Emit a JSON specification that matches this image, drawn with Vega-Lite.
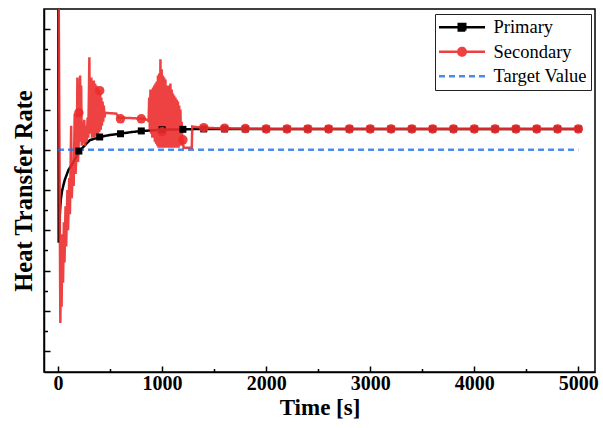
{
  "$schema": "https://vega.github.io/schema/vega-lite/v6.json",
  "width": 551,
  "height": 363,
  "autosize": {"type": "none"},
  "padding": {"left": 44, "top": 9, "right": 8, "bottom": 56},
  "config": {
    "view": {"stroke": "#000", "strokeWidth": 1.5},
    "axis": {
      "grid": false, "domainColor": "#000", "domainWidth": 1.5, "tickColor": "#000", "tickWidth": 1.5,
      "labelFont": "Liberation Serif", "labelFontWeight": "bold", "labelFontSize": 20, "labelColor": "#000",
      "titleFont": "Liberation Serif", "titleFontWeight": "bold", "titleFontSize": 23, "titleColor": "#000"
    }
  },
  "datasets": {
    "curves": [
      {"t": 0, "v": 12, "series": "Primary"},
      {"t": 6, "v": 2.69, "series": "Primary"},
      {"t": 15, "v": 3.3, "series": "Primary"},
      {"t": 26, "v": 3.76, "series": "Primary"},
      {"t": 40, "v": 4.0, "series": "Primary"},
      {"t": 64, "v": 4.25, "series": "Primary"},
      {"t": 100, "v": 4.5, "series": "Primary"},
      {"t": 142, "v": 4.67, "series": "Primary"},
      {"t": 209, "v": 4.98, "series": "Primary"},
      {"t": 305, "v": 5.24, "series": "Primary"},
      {"t": 401, "v": 5.32, "series": "Primary"},
      {"t": 500, "v": 5.37, "series": "Primary"},
      {"t": 594, "v": 5.4, "series": "Primary"},
      {"t": 700, "v": 5.44, "series": "Primary"},
      {"t": 806, "v": 5.47, "series": "Primary"},
      {"t": 1008, "v": 5.5, "series": "Primary"},
      {"t": 1210, "v": 5.51, "series": "Primary"},
      {"t": 1400, "v": 5.52, "series": "Primary"},
      {"t": 5000, "v": 5.52, "series": "Primary"},

      {"t": 0, "v": 12, "series": "Secondary"},
      {"t": 22, "v": 0.7, "series": "Secondary"},
      {"t": 28, "v": 2.3, "series": "Secondary"},
      {"t": 34, "v": 1.1, "series": "Secondary"},
      {"t": 42, "v": 2.9, "series": "Secondary"},
      {"t": 48, "v": 1.7, "series": "Secondary"},
      {"t": 56, "v": 3.2, "series": "Secondary"},
      {"t": 62, "v": 2.2, "series": "Secondary"},
      {"t": 72, "v": 3.6, "series": "Secondary"},
      {"t": 78, "v": 2.6, "series": "Secondary"},
      {"t": 90, "v": 4.0, "series": "Secondary"},
      {"t": 96, "v": 3.0, "series": "Secondary"},
      {"t": 108, "v": 4.3, "series": "Secondary"},
      {"t": 114, "v": 3.4, "series": "Secondary"},
      {"t": 126, "v": 5.6, "series": "Secondary"},
      {"t": 132, "v": 3.8, "series": "Secondary"},
      {"t": 144, "v": 4.7, "series": "Secondary"},
      {"t": 150, "v": 4.1, "series": "Secondary"},
      {"t": 160, "v": 5.9, "series": "Secondary"},
      {"t": 168, "v": 4.4, "series": "Secondary"},
      {"t": 180, "v": 5.0, "series": "Secondary"},
      {"t": 186, "v": 6.8, "series": "Secondary"},
      {"t": 192, "v": 4.7, "series": "Secondary"},
      {"t": 200, "v": 5.3, "series": "Secondary"},
      {"t": 206, "v": 5.92, "series": "Secondary"},
      {"t": 212, "v": 6.85, "series": "Secondary"},
      {"t": 216, "v": 5.2, "series": "Secondary"},
      {"t": 222, "v": 6.6, "series": "Secondary"},
      {"t": 228, "v": 5.1, "series": "Secondary"},
      {"t": 236, "v": 5.7, "series": "Secondary"},
      {"t": 244, "v": 5.15, "series": "Secondary"},
      {"t": 252, "v": 5.75, "series": "Secondary"},
      {"t": 260, "v": 5.1, "series": "Secondary"},
      {"t": 268, "v": 5.6, "series": "Secondary"},
      {"t": 276, "v": 5.2, "series": "Secondary"},
      {"t": 284, "v": 5.8, "series": "Secondary"},
      {"t": 290, "v": 5.3, "series": "Secondary"},
      {"t": 296, "v": 6.3, "series": "Secondary"},
      {"t": 301, "v": 7.3, "series": "Secondary"},
      {"t": 305, "v": 5.5, "series": "Secondary"},
      {"t": 308, "v": 6.75, "series": "Secondary"},
      {"t": 314, "v": 5.4, "series": "Secondary"},
      {"t": 320, "v": 6.8, "series": "Secondary"},
      {"t": 326, "v": 5.3, "series": "Secondary"},
      {"t": 332, "v": 6.7, "series": "Secondary"},
      {"t": 338, "v": 5.35, "series": "Secondary"},
      {"t": 344, "v": 6.72, "series": "Secondary"},
      {"t": 350, "v": 5.3, "series": "Secondary"},
      {"t": 356, "v": 6.65, "series": "Secondary"},
      {"t": 362, "v": 5.4, "series": "Secondary"},
      {"t": 368, "v": 6.6, "series": "Secondary"},
      {"t": 374, "v": 5.35, "series": "Secondary"},
      {"t": 380, "v": 6.55, "series": "Secondary"},
      {"t": 386, "v": 5.4, "series": "Secondary"},
      {"t": 392, "v": 6.5, "series": "Secondary"},
      {"t": 398, "v": 5.45, "series": "Secondary"},
      {"t": 404, "v": 6.45, "series": "Secondary"},
      {"t": 410, "v": 5.5, "series": "Secondary"},
      {"t": 416, "v": 6.3, "series": "Secondary"},
      {"t": 422, "v": 5.6, "series": "Secondary"},
      {"t": 428, "v": 6.2, "series": "Secondary"},
      {"t": 434, "v": 5.7, "series": "Secondary"},
      {"t": 440, "v": 6.1, "series": "Secondary"},
      {"t": 446, "v": 5.8, "series": "Secondary"},
      {"t": 452, "v": 5.92, "series": "Secondary"},
      {"t": 560, "v": 5.9, "series": "Secondary"},
      {"t": 585, "v": 5.8, "series": "Secondary"},
      {"t": 700, "v": 5.79, "series": "Secondary"},
      {"t": 830, "v": 5.77, "series": "Secondary"},
      {"t": 862, "v": 5.74, "series": "Secondary"},
      {"t": 870, "v": 5.7, "series": "Secondary"},
      {"t": 876, "v": 6.3, "series": "Secondary"},
      {"t": 882, "v": 5.5, "series": "Secondary"},
      {"t": 888, "v": 6.5, "series": "Secondary"},
      {"t": 894, "v": 5.4, "series": "Secondary"},
      {"t": 900, "v": 6.5, "series": "Secondary"},
      {"t": 906, "v": 5.3, "series": "Secondary"},
      {"t": 912, "v": 6.55, "series": "Secondary"},
      {"t": 918, "v": 5.3, "series": "Secondary"},
      {"t": 924, "v": 6.6, "series": "Secondary"},
      {"t": 930, "v": 5.2, "series": "Secondary"},
      {"t": 936, "v": 6.65, "series": "Secondary"},
      {"t": 942, "v": 5.15, "series": "Secondary"},
      {"t": 948, "v": 6.7, "series": "Secondary"},
      {"t": 954, "v": 5.1, "series": "Secondary"},
      {"t": 960, "v": 6.85, "series": "Secondary"},
      {"t": 966, "v": 5.05, "series": "Secondary"},
      {"t": 972, "v": 6.9, "series": "Secondary"},
      {"t": 978, "v": 5.05, "series": "Secondary"},
      {"t": 984, "v": 7.25, "series": "Secondary"},
      {"t": 990, "v": 5.05, "series": "Secondary"},
      {"t": 996, "v": 7.0, "series": "Secondary"},
      {"t": 1002, "v": 5.05, "series": "Secondary"},
      {"t": 1008, "v": 6.85, "series": "Secondary"},
      {"t": 1014, "v": 5.05, "series": "Secondary"},
      {"t": 1020, "v": 6.8, "series": "Secondary"},
      {"t": 1026, "v": 5.05, "series": "Secondary"},
      {"t": 1032, "v": 6.75, "series": "Secondary"},
      {"t": 1038, "v": 5.1, "series": "Secondary"},
      {"t": 1044, "v": 6.6, "series": "Secondary"},
      {"t": 1050, "v": 5.05, "series": "Secondary"},
      {"t": 1056, "v": 6.6, "series": "Secondary"},
      {"t": 1062, "v": 5.05, "series": "Secondary"},
      {"t": 1068, "v": 6.6, "series": "Secondary"},
      {"t": 1074, "v": 5.1, "series": "Secondary"},
      {"t": 1080, "v": 6.65, "series": "Secondary"},
      {"t": 1086, "v": 5.05, "series": "Secondary"},
      {"t": 1092, "v": 6.5, "series": "Secondary"},
      {"t": 1098, "v": 5.1, "series": "Secondary"},
      {"t": 1104, "v": 6.4, "series": "Secondary"},
      {"t": 1110, "v": 5.05, "series": "Secondary"},
      {"t": 1116, "v": 6.35, "series": "Secondary"},
      {"t": 1122, "v": 5.1, "series": "Secondary"},
      {"t": 1128, "v": 6.3, "series": "Secondary"},
      {"t": 1134, "v": 5.05, "series": "Secondary"},
      {"t": 1140, "v": 6.25, "series": "Secondary"},
      {"t": 1146, "v": 5.1, "series": "Secondary"},
      {"t": 1152, "v": 6.2, "series": "Secondary"},
      {"t": 1158, "v": 5.05, "series": "Secondary"},
      {"t": 1164, "v": 6.1, "series": "Secondary"},
      {"t": 1170, "v": 5.1, "series": "Secondary"},
      {"t": 1176, "v": 6.0, "series": "Secondary"},
      {"t": 1182, "v": 5.1, "series": "Secondary"},
      {"t": 1188, "v": 5.7, "series": "Secondary"},
      {"t": 1194, "v": 5.2, "series": "Secondary"},
      {"t": 1200, "v": 5.25, "series": "Secondary"},
      {"t": 1206, "v": 5.05, "series": "Secondary"},
      {"t": 1285, "v": 5.05, "series": "Secondary"},
      {"t": 1290, "v": 5.58, "series": "Secondary"},
      {"t": 1350, "v": 5.56, "series": "Secondary"},
      {"t": 1500, "v": 5.54, "series": "Secondary"},
      {"t": 2000, "v": 5.52, "series": "Secondary"},
      {"t": 5000, "v": 5.52, "series": "Secondary"},

      {"t": 0, "v": 5.0, "series": "Target Value"},
      {"t": 5000, "v": 5.0, "series": "Target Value"}
    ],
    "markers": [
      {"t": 200, "v": 4.97, "series": "Primary"},
      {"t": 400, "v": 5.32, "series": "Primary"},
      {"t": 600, "v": 5.4, "series": "Primary"},
      {"t": 800, "v": 5.47, "series": "Primary"},
      {"t": 1000, "v": 5.5, "series": "Primary"},
      {"t": 1200, "v": 5.51, "series": "Primary"},
      {"t": 1400, "v": 5.52, "series": "Primary"},
      {"t": 1600, "v": 5.52, "series": "Primary"},
      {"t": 1800, "v": 5.52, "series": "Primary"},
      {"t": 2000, "v": 5.52, "series": "Primary"},
      {"t": 2200, "v": 5.52, "series": "Primary"},
      {"t": 2400, "v": 5.52, "series": "Primary"},
      {"t": 2600, "v": 5.52, "series": "Primary"},
      {"t": 2800, "v": 5.52, "series": "Primary"},
      {"t": 3000, "v": 5.52, "series": "Primary"},
      {"t": 3200, "v": 5.52, "series": "Primary"},
      {"t": 3400, "v": 5.52, "series": "Primary"},
      {"t": 3600, "v": 5.52, "series": "Primary"},
      {"t": 3800, "v": 5.52, "series": "Primary"},
      {"t": 4000, "v": 5.52, "series": "Primary"},
      {"t": 4200, "v": 5.52, "series": "Primary"},
      {"t": 4400, "v": 5.52, "series": "Primary"},
      {"t": 4600, "v": 5.52, "series": "Primary"},
      {"t": 4800, "v": 5.52, "series": "Primary"},
      {"t": 5000, "v": 5.52, "series": "Primary"},
      {"t": 200, "v": 5.92, "series": "Secondary"},
      {"t": 400, "v": 6.47, "series": "Secondary"},
      {"t": 600, "v": 5.77, "series": "Secondary"},
      {"t": 800, "v": 5.77, "series": "Secondary"},
      {"t": 1000, "v": 5.45, "series": "Secondary"},
      {"t": 1200, "v": 5.25, "series": "Secondary"},
      {"t": 1400, "v": 5.55, "series": "Secondary"},
      {"t": 1600, "v": 5.54, "series": "Secondary"},
      {"t": 1800, "v": 5.53, "series": "Secondary"},
      {"t": 2000, "v": 5.52, "series": "Secondary"},
      {"t": 2200, "v": 5.52, "series": "Secondary"},
      {"t": 2400, "v": 5.52, "series": "Secondary"},
      {"t": 2600, "v": 5.52, "series": "Secondary"},
      {"t": 2800, "v": 5.52, "series": "Secondary"},
      {"t": 3000, "v": 5.52, "series": "Secondary"},
      {"t": 3200, "v": 5.52, "series": "Secondary"},
      {"t": 3400, "v": 5.52, "series": "Secondary"},
      {"t": 3600, "v": 5.52, "series": "Secondary"},
      {"t": 3800, "v": 5.52, "series": "Secondary"},
      {"t": 4000, "v": 5.52, "series": "Secondary"},
      {"t": 4200, "v": 5.52, "series": "Secondary"},
      {"t": 4400, "v": 5.52, "series": "Secondary"},
      {"t": 4600, "v": 5.52, "series": "Secondary"},
      {"t": 4800, "v": 5.52, "series": "Secondary"},
      {"t": 5000, "v": 5.52, "series": "Secondary"}
    ]
  },
  "resolve": {"axis": {"x": "independent", "y": "independent"}},
  "layer": [
    {
      "data": {"name": "curves"},
      "mark": {"type": "line", "clip": true, "strokeWidth": 2.5},
      "encoding": {
        "x": {
          "field": "t", "type": "quantitative",
          "scale": {"domain": [-135, 5160], "nice": false, "zero": false},
          "axis": {"values": [0, 1000, 2000, 3000, 4000, 5000], "format": "d", "tickSize": -6, "labelPadding": 7, "labelFlush": false, "title": "Time [s]", "titlePadding": 3, "orient": "bottom"}
        },
        "y": {
          "field": "v", "type": "quantitative",
          "scale": {"domain": [-0.52, 8.5], "nice": false, "zero": false},
          "axis": {"values": [0, 1, 2, 3, 4, 5, 6, 7, 8], "labels": false, "tickSize": -6, "title": "Heat Transfer Rate", "titleFontSize": 24.5, "titlePadding": 7, "orient": "left"}
        },
        "color": {
          "field": "series", "type": "nominal",
          "scale": {"domain": ["Primary", "Secondary", "Target Value"], "range": ["#000000", "#ec2c2c", "#1f6fe8"]},
          "legend": {
            "title": null, "orient": "none", "legendX": 391, "legendY": 5, "direction": "vertical",
            "labelFont": "Liberation Serif", "labelFontSize": 18.5, "labelColor": "#000", "labelFontWeight": "normal",
            "symbolSize": 100, "labelOffset": 36, "rowPadding": 5.5, "padding": 4,
            "strokeColor": "#222", "fillColor": "#ffffff",
            "encode": {
              "symbols": {
                "update": {
                  "shape": {"signal": "datum.value === 'Primary' ? 'M-4.6,0H4.6M-0.65,-0.65H0.65V0.65H-0.65Z' : datum.value === 'Secondary' ? 'M-4.6,0H4.6M0.75,0A0.75,0.75,0,1,1,-0.75,0A0.75,0.75,0,1,1,0.75,0Z' : 'M-4.6,0H4.6'"},
                  "fill": {"signal": "datum.value === 'Primary' ? '#000000' : datum.value === 'Secondary' ? '#ec2c2c' : 'transparent'"},
                  "stroke": {"signal": "datum.value === 'Primary' ? '#000000' : datum.value === 'Secondary' ? '#ec2c2c' : '#1f6fe8'"},
                  "strokeDash": {"signal": "datum.value === 'Target Value' ? [6, 4] : [1, 0]"},
                  "strokeWidth": {"value": 2.5},
                  "strokeJoin": {"value": "miter"},
                  "opacity": {"signal": "datum.value === 'Secondary' ? 0.8 : 1"},
                  "x": {"value": 23}
                }
              }
            }
          }
        },
        "strokeDash": {
          "field": "series", "type": "nominal",
          "scale": {"domain": ["Primary", "Secondary", "Target Value"], "range": [[1, 0], [1, 0], [6, 4]]},
          "legend": null
        },
        "opacity": {
          "field": "series", "type": "nominal",
          "scale": {"domain": ["Primary", "Secondary", "Target Value"], "range": [1, 0.8, 1]},
          "legend": null
        }
      }
    },
    {
      "data": {"name": "markers"},
      "mark": {"type": "point", "filled": true, "clip": true},
      "encoding": {
        "x": {
          "field": "t", "type": "quantitative",
          "axis": {"values": [500, 1500, 2500, 3500, 4500], "labels": false, "domain": false, "tickSize": -3.5, "title": null, "orient": "bottom"}
        },
        "y": {
          "field": "v", "type": "quantitative",
          "axis": {"values": [0.5, 1.5, 2.5, 3.5, 4.5, 5.5, 6.5, 7.5], "labels": false, "domain": false, "tickSize": -3.5, "title": null, "orient": "left"}
        },
        "color": {"field": "series", "type": "nominal"},
        "shape": {
          "field": "series", "type": "nominal",
          "scale": {"domain": ["Primary", "Secondary"], "range": ["square", "circle"]},
          "legend": null
        },
        "size": {
          "field": "series", "type": "nominal",
          "scale": {"domain": ["Primary", "Secondary"], "range": [49, 90]},
          "legend": null
        },
        "opacity": {"field": "series", "type": "nominal", "legend": null}
      }
    }
  ]
}
